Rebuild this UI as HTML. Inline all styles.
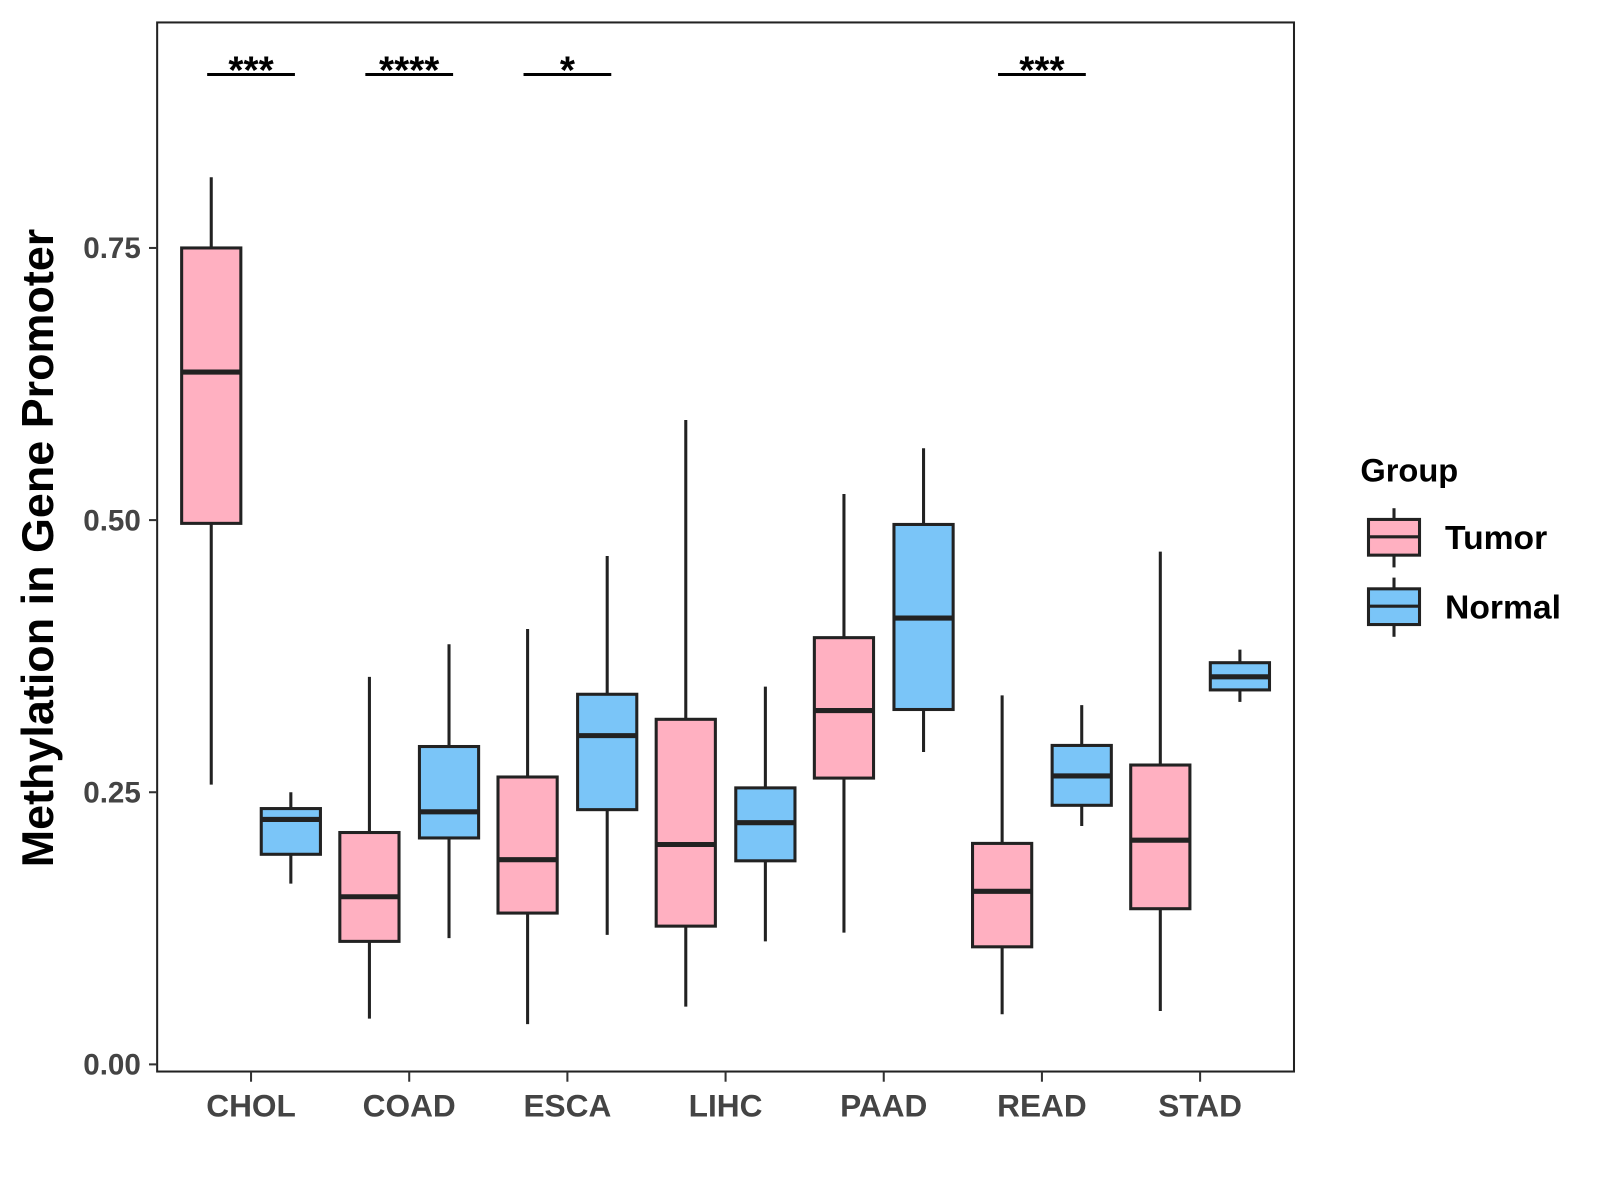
<!DOCTYPE html>
<html><head><meta charset="utf-8"><style>
html,body{margin:0;padding:0;background:#fff;width:1600px;height:1200px;overflow:hidden}
svg text{font-family:"Liberation Sans",Arial,sans-serif;font-weight:bold}
</style></head><body>
<svg id="chart" width="1600" height="1200" xmlns="http://www.w3.org/2000/svg">
<g transform="scale(1.0205)">
<rect x="154" y="22" width="1114" height="1028" fill="#fff" stroke="#222" stroke-width="2"/>
<g id="marks"></g>
<g id="axes"></g>
<text x="52" y="537" transform="rotate(-90 52 537)" text-anchor="middle" font-size="44" fill="#000">Methylation in Gene Promoter</text>
<g>
<text x="1333" y="472" font-size="32" fill="#000">Group</text>
<g>
<line x1="1366" y1="498" x2="1366" y2="556" stroke="#222" stroke-width="3"/>
<rect x="1341" y="509" width="50" height="35" fill="#FFB0C1" stroke="#222" stroke-width="3"/>
<line x1="1341" y1="526" x2="1391" y2="526" stroke="#222" stroke-width="3"/>
<text x="1416" y="538" font-size="33" fill="#000">Tumor</text></g>
<g>
<line x1="1366" y1="566" x2="1366" y2="624" stroke="#222" stroke-width="3"/>
<rect x="1341" y="577" width="50" height="35" fill="#7AC5F8" stroke="#222" stroke-width="3"/>
<line x1="1341" y1="594" x2="1391" y2="594" stroke="#222" stroke-width="3"/>
<text x="1416" y="606" font-size="33" fill="#000">Normal</text></g>
</g>
</g>
</svg>
<script>
const categories=["CHOL","COAD","ESCA","LIHC","PAAD","READ","STAD"];
const tumorStats=[[0.257,0.497,0.636,0.75,0.815],[0.042,0.113,0.154,0.213,0.356],[0.037,0.139,0.188,0.264,0.40],[0.053,0.127,0.202,0.317,0.592],[0.121,0.263,0.325,0.392,0.524],[0.046,0.108,0.159,0.203,0.339],[0.049,0.143,0.206,0.275,0.471]];
const normalStats=[[0.166,0.193,0.225,0.235,0.25],[0.116,0.208,0.232,0.292,0.386],[0.119,0.234,0.302,0.340,0.467],[0.113,0.187,0.222,0.254,0.347],[0.287,0.326,0.41,0.496,0.566],[0.219,0.238,0.265,0.293,0.33],[0.333,0.344,0.356,0.369,0.381]];
const yTicks=[0,0.25,0.5,0.75];
const yTickLabels=["0.00","0.25","0.50","0.75"];
const sigLabels=["***","****","*","","","***",""];
const NS="http://www.w3.org/2000/svg";
const y=v=>1043-v*1066.7;
const x=i=>246+i*155;
const marks=document.getElementById('marks'),axes=document.getElementById('axes');
function mk(tag,at,parent){const e=document.createElementNS(NS,tag);for(const k in at)e.setAttribute(k,at[k]);parent.appendChild(e);return e;}
function box(s,cx,fill,name){
 const g=mk('g',{},marks);
 
 
 mk('line',{x1:cx,x2:cx,y1:y(s[4]),y2:y(s[0]),stroke:'#222','stroke-width':3},g);
 mk('rect',{x:cx-29,y:y(s[3]),width:58,height:y(s[1])-y(s[3]),fill:fill,stroke:'#222','stroke-width':3},g);
 mk('line',{x1:cx-29,x2:cx+29,y1:y(s[2]),y2:y(s[2]),stroke:'#222','stroke-width':5},g);
}
categories.forEach((c,i)=>{
 box(tumorStats[i],x(i)-39,'#FFB0C1','box-tumor-'+c.toLowerCase());
 box(normalStats[i],x(i)+39,'#7AC5F8','box-normal-'+c.toLowerCase());
 mk('line',{x1:x(i),x2:x(i),y1:1050,y2:1060,stroke:'#333','stroke-width':2},axes);
 const t=mk('text',{x:x(i),y:1094,'text-anchor':'middle','font-size':31,fill:'#444'},axes);
 t.textContent=c;
 
 
 if(sigLabels[i]){
  const g=mk('g',{},marks);
  
  
  mk('line',{x1:x(i)-43,x2:x(i)+43,y1:73,y2:73,stroke:'#000','stroke-width':3},g);
  const s=mk('text',{x:x(i),y:82,'text-anchor':'middle','font-size':38,fill:'#000'},g);
  s.textContent=sigLabels[i];
 }
});
yTicks.forEach((v,i)=>{
 mk('line',{x1:146,x2:154,y1:y(v),y2:y(v),stroke:'#333','stroke-width':2},axes);
 const t=mk('text',{x:138,y:y(v)+10,'text-anchor':'end','font-size':29,fill:'#444'},axes);
 t.textContent=yTickLabels[i];
 
 
});
</script>
</body></html>
